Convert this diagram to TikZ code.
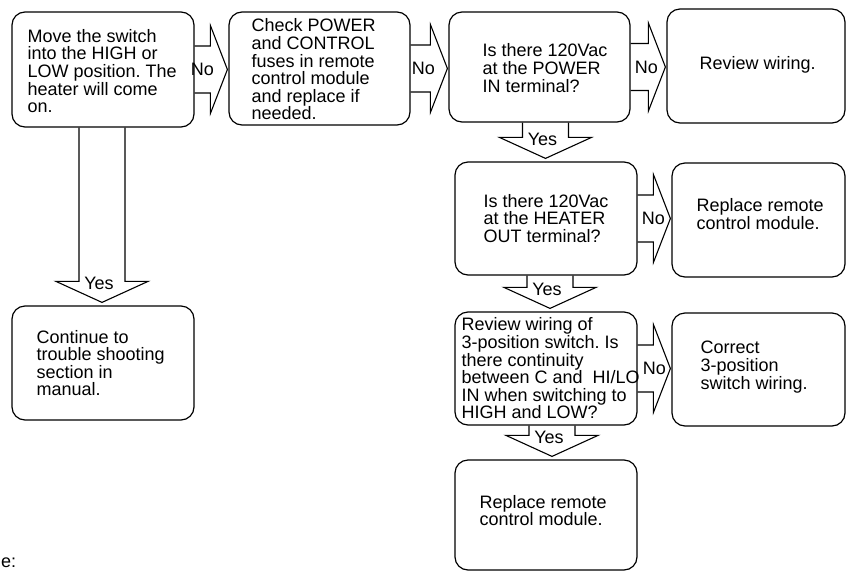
\documentclass[tikz,border=0pt]{standalone}
\usepackage{fontspec}
\setmainfont{Liberation Sans}
\usetikzlibrary{calc}
\frenchspacing
\tikzset{
  box/.style={draw, line width=1.2pt, rounded corners=13pt, inner sep=0pt},
  txt/.style={font=\fontsize{18}{17.6}\selectfont\frenchspacing, align=left, inner sep=0pt, anchor=west},
  blk/.style={draw, line width=1.1pt, line join=miter},
  lbl/.style={font=\fontsize{18}{18}\selectfont, inner sep=0pt}
}
% right block arrow: from #1 to #2, label x offset #3
\newcommand{\rarr}[3]{%
  \draw[blk] let \p1=(#1.east), \p2=(#2.west), \p3=(#1.center) in
    (\x1,\y3+23.5pt) -- (\x2-18pt,\y3+23.5pt) -- (\x2-18pt,\y3+44pt) -- (\x2-1pt,\y3)
    -- (\x2-18pt,\y3-44pt) -- (\x2-18pt,\y3-23.5pt) -- (\x1,\y3-23.5pt)
    node[lbl] at (\x2-#3,\y3) {No};}
% down block arrow: from #1 to #2, x offset #3
\newcommand{\darr}[3]{%
  \draw[blk] let \p1=(#1.south), \p2=(#2.north), \p3=(#1.center) in
    (\x3+#3-23pt,\y1) -- (\x3+#3-23pt,\y2+24pt) -- (\x3+#3-46pt,\y2+24pt) -- (\x3+#3,\y2+3pt)
    -- (\x3+#3+46pt,\y2+24pt) -- (\x3+#3+23pt,\y2+24pt) -- (\x3+#3+23pt,\y1)
    node[lbl] at (\x3+#3-3pt,\y2+22pt) {Yes};}
\begin{document}
\begin{tikzpicture}[x=1pt,y=-1pt]
\useasboundingbox (0,0) rectangle (846,571);

% boxes
\node[box, minimum width=182pt, minimum height=115pt] (b1) at (103,69.5) {};
\node[box, minimum width=181pt, minimum height=113pt] (b2) at (319.5,68.5) {};
\node[box, minimum width=181pt, minimum height=110pt] (b3) at (539.5,67) {};
\node[box, minimum width=178pt, minimum height=114pt] (b4) at (756,66) {};
\node[box, minimum width=182pt, minimum height=113pt] (b5) at (546,218.5) {};
\node[box, minimum width=173pt, minimum height=114pt] (b6) at (758.5,220) {};
\node[box, minimum width=182pt, minimum height=113pt] (b7) at (546,368.5) {};
\node[box, minimum width=173pt, minimum height=113pt] (b8) at (758.5,369.5) {};
\node[box, minimum width=182pt, minimum height=110pt] (b9) at (546,515) {};
\node[box, minimum width=182pt, minimum height=114pt] (b10) at (103,363) {};

% texts
\node[txt] (t1) at ($(b1.west)+(16,1.5)$) {Move the switch\\into the HIGH or\\LOW position. The\\heater will come\\on.};
\node[txt] (t2) at ($(b2.west)+(23,1)$) {Check POWER\\and CONTROL\\fuses in remote\\control module\\and replace if\\needed.};
\node[txt] (t3) at ($(b3.west)+(34,1)$) {Is there 120Vac\\at the POWER\\IN terminal?};
\node[txt] (t4) at ($(b4.west)+(33,-1)$) {Review wiring.};
\node[txt] (t5) at ($(b5.west)+(29,0)$) {Is there 120Vac\\at the HEATER\\OUT terminal?};
\node[txt] (t6) at ($(b6.west)+(25,-6)$) {Replace remote\\control module.};
\node[txt] (t7) at ($(b7.west)+(7,0)$) {Review wiring of\\3-position switch. Is\\there continuity\\between C and\ \ HI/LO\\IN when switching to\\HIGH and LOW?};
\node[txt] (t8) at ($(b8.west)+(29,-2.5)$) {Correct\\3-position\\switch wiring.};
\node[txt] (t9) at ($(b9.west)+(25,-4.5)$) {Replace remote\\control module.};
\node[txt] (t10) at ($(b10.west)+(25,0)$) {Continue to\\trouble shooting\\section in\\manual.};

% connectors
\rarr{b1}{b2}{26pt}
\rarr{b2}{b3}{25pt}
\rarr{b3}{b4}{20pt}
\rarr{b5}{b6}{18pt}
\rarr{b7}{b8}{17pt}
\darr{b3}{b5}{6pt}
\darr{b5}{b7}{4pt}
\darr{b7}{b9}{6pt}
\darr{b1}{b10}{-1pt}

% text fragment at bottom left
\node[lbl, anchor=base west] (note) at (1,567) {e:};
\end{tikzpicture}
\end{document}
